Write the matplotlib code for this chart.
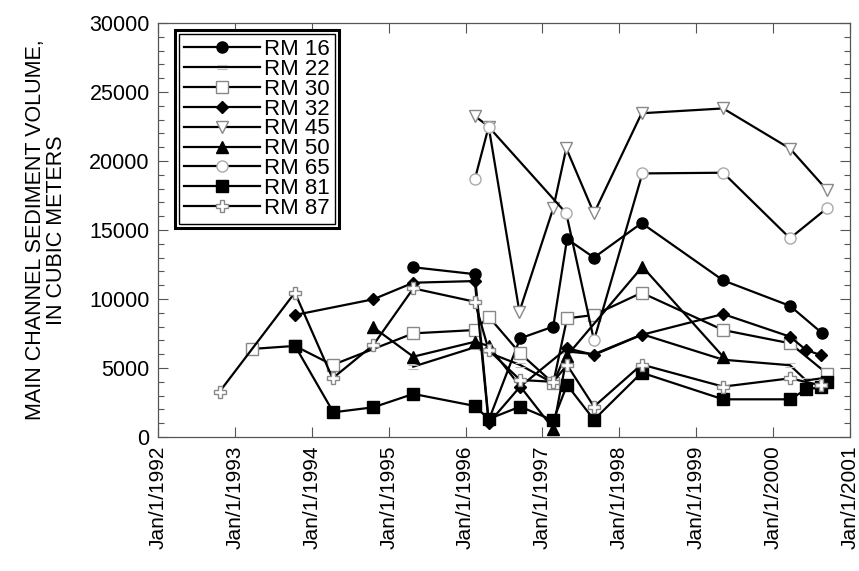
import numpy as np
import matplotlib.pyplot as plt
from matplotlib.path import Path
from matplotlib.patches import Rectangle

plt.rcParams['font.family'] = ['Liberation Sans', 'DejaVu Sans']

# dates in decimal years, volumes in cubic meters
rm16_t = [1995.32, 1996.12, 1996.30, 1996.71, 1997.14, 1997.32, 1997.67, 1998.29, 1999.35, 2000.22, 2000.63]
rm16_v = [12300, 11800, 1200, 7150, 8000, 14350, 13000, 15500, 11350, 9500, 7560]

rm22_t = [1995.32, 1996.12, 1996.71, 1997.14, 1997.32, 1997.67, 1998.30, 1999.35, 2000.22, 2000.43, 2000.70]
rm22_v = [5100, 6500, 5220, 3900, 6200, 6000, 7440, 5600, 5200, 4100, 4300]

rm30_t = [1993.22, 1993.78, 1994.27, 1995.32, 1996.12, 1996.30, 1996.71, 1997.14, 1997.32, 1997.67, 1998.29, 1999.35, 2000.22, 2000.70]
rm30_v = [6380, 6600, 5220, 7510, 7750, 8720, 6060, 3900, 8600, 8840, 10450, 7750, 6790, 4600]

rm32_t = [1993.78, 1994.80, 1995.32, 1996.12, 1996.30, 1996.71, 1997.32, 1997.67, 1998.29, 1999.35, 2000.22, 2000.43, 2000.62]
rm32_v = [8840, 9980, 11180, 11300, 1000, 3650, 6430, 5950, 7400, 8910, 7270, 6300, 5940]

rm45_t = [1996.12, 1996.30, 1996.70, 1997.14, 1997.31, 1997.67, 1998.29, 1999.35, 2000.22, 2000.70]
rm45_v = [23260, 22500, 9080, 16570, 20920, 16210, 23460, 23810, 20900, 17900]

rm50_t = [1994.80, 1995.32, 1996.12, 1996.30, 1997.14, 1997.32, 1998.30, 1999.35]
rm50_v = [7950, 5820, 6900, 6600, 600, 5900, 12340, 5820]

rm65_t = [1996.12, 1996.30, 1997.31, 1997.67, 1998.30, 1999.35, 2000.22, 2000.70]
rm65_v = [18670, 22480, 16210, 7000, 19100, 19150, 14400, 16570]

rm81_t = [1993.78, 1994.28, 1994.80, 1995.32, 1996.12, 1996.30, 1996.71, 1997.14, 1997.32, 1997.67, 1998.29, 1999.35, 2000.22, 2000.43, 2000.62, 2000.70]
rm81_v = [6620, 1790, 2150, 3120, 2250, 1300, 2200, 1200, 3770, 1250, 4660, 2730, 2730, 3450, 3600, 3950]

rm87_t = [1992.80, 1993.78, 1994.27, 1994.80, 1995.32, 1996.12, 1996.30, 1996.71, 1997.14, 1997.32, 1997.67, 1998.29, 1999.35, 2000.22, 2000.62]
rm87_v = [3280, 10460, 4250, 6670, 10770, 9800, 6300, 4130, 4000, 5220, 2200, 5250, 3650, 4250, 3750]

years = np.arange(1992, 2002)
year_labels = ['Jan/1/%d' % y for y in years]

eq = Path([(-1, -0.45), (1, -0.45), (-1, 0.45), (1, 0.45)],
          [Path.MOVETO, Path.LINETO, Path.MOVETO, Path.LINETO])

fig = plt.figure(figsize=(8.59, 5.71), dpi=100)
ax = fig.add_axes([0.184, 0.2347, 0.8055, 0.725])

lw = 1.6
ax.plot(rm16_t, rm16_v, 'k-', lw=lw, marker='o', ms=8, mfc='k', mec='k', label='RM 16')
ax.plot(rm22_t, rm22_v, 'k-', lw=lw, marker=eq, ms=7, mec='#bbbbbb', mew=0.8, label='RM 22')
ax.plot(rm30_t, rm30_v, 'k-', lw=lw, marker='s', ms=8, mfc='w', mec='#888888', mew=1, label='RM 30')
ax.plot(rm32_t, rm32_v, 'k-', lw=lw, marker='D', ms=6, mfc='k', mec='k', label='RM 32')
ax.plot(rm45_t, rm45_v, 'k-', lw=lw, marker='v', ms=9, mfc='w', mec='#888888', mew=1, label='RM 45')
ax.plot(rm50_t, rm50_v, 'k-', lw=lw, marker='^', ms=8, mfc='k', mec='k', label='RM 50')
ax.plot(rm65_t, rm65_v, 'k-', lw=lw, marker='o', ms=8, mfc='w', mec='#aaaaaa', mew=1, label='RM 65')
ax.plot(rm81_t, rm81_v, 'k-', lw=lw, marker='s', ms=8, mfc='k', mec='k', label='RM 81')
ax.plot(rm87_t, rm87_v, 'k-', lw=lw, marker='P', ms=9, mfc='w', mec='#888888', mew=1, label='RM 87')

ax.set_xlim(1992, 2001)
ax.set_ylim(0, 30000)
ax.set_xticks(years)
ax.set_xticklabels(year_labels, rotation=90, fontsize=15)
ax.set_yticks(np.arange(0, 30001, 5000))
ax.set_yticks(np.arange(0, 30001, 1000), minor=True)
ax.tick_params(axis='y', labelsize=15.5, pad=6)
ax.tick_params(axis='x', pad=6)
ax.tick_params(which='both', direction='in', top=True, right=True, width=0.8, color='#555555')
ax.tick_params(which='major', length=7)
ax.tick_params(which='minor', length=4)
for s in ax.spines.values():
    s.set_color('#555555')
    s.set_linewidth(0.9)

ax.set_ylabel('MAIN CHANNEL SEDIMENT VOLUME,\nIN CUBIC METERS', fontsize=15.5, labelpad=16,
              linespacing=1.0)

leg = ax.legend(loc='upper left', bbox_to_anchor=(0.0246, 0.983), borderaxespad=0,
                fontsize=16, handlelength=3.4, labelspacing=-0.05, borderpad=0.4,
                handletextpad=0.2, fancybox=False, framealpha=1, edgecolor='k')
leg.get_frame().set_linewidth(2.2)

fig.canvas.draw()
bb = leg.get_window_extent().transformed(fig.transFigure.inverted())
dx = 4 / 859
dy = 4 / 571
fig.add_artist(Rectangle((bb.x0 + dx, bb.y0 + dy), bb.width - 2 * dx, bb.height - 2 * dy,
                         transform=fig.transFigure, fill=False, edgecolor='k', lw=1.0, zorder=10))

fig.savefig('out.png', dpi=100)
